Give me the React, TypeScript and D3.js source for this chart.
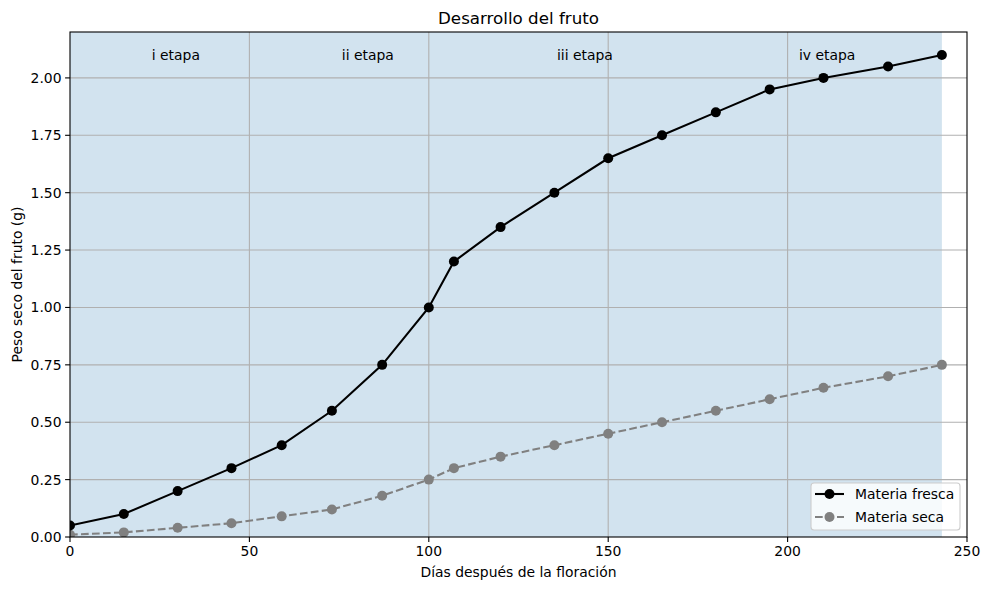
import React from "react";
import * as d3 from "d3";

const days = [0, 15, 30, 45, 59, 73, 87, 100, 107, 120, 135, 150, 165, 180, 195, 210, 228, 243];
const fresca = [0.05, 0.1, 0.2, 0.3, 0.4, 0.55, 0.75, 1.0, 1.2, 1.35, 1.5, 1.65, 1.75, 1.85, 1.95, 2.0, 2.05, 2.1];
const seca = [0.01, 0.02, 0.04, 0.06, 0.09, 0.12, 0.18, 0.25, 0.3, 0.35, 0.4, 0.45, 0.5, 0.55, 0.6, 0.65, 0.7, 0.75];
const stageLabels = ["i etapa", "ii etapa", "iii etapa", "iv etapa"];
const stageX = [29.5, 83, 143.5, 211];
const stageY = 2.1;
const xTicks = [0, 50, 100, 150, 200, 250];
const yTicks = [0, 0.25, 0.5, 0.75, 1.0, 1.25, 1.5, 1.75, 2.0];
const shadeEnd = 243;

const W = 990, H = 590;
const m = { left: 70, right: 967, top: 32, bottom: 537 };
const font = "DejaVu Sans, sans-serif";
const R = 5;

export default function App() {
  const x = d3.scaleLinear().domain([0, 250]).range([m.left, m.right]);
  const y = d3.scaleLinear().domain([0, 2.2]).range([m.bottom, m.top]);
  const line = d3.line<number>().x((_, i) => x(days[i])).y((d) => y(d));
  const tickFmt = d3.format(".2f");
  return (
    <svg width={W} height={H} style={{ position: "absolute", left: 0, top: 0, background: "#fff" }} fontFamily={font}>
      <defs>
        <clipPath id="clip">
          <rect x={m.left} y={m.top} width={m.right - m.left} height={m.bottom - m.top} />
        </clipPath>
      </defs>
      <rect x={x(0)} y={m.top} width={x(shadeEnd) - x(0)} height={m.bottom - m.top} fill="rgb(210,227,239)" />
      {xTicks.slice(1, -1).map((t) => (
        <line key={"gx" + t} x1={x(t)} x2={x(t)} y1={m.top} y2={m.bottom} stroke="#b0b0b0" strokeWidth={1.1} />
      ))}
      {yTicks.slice(1).map((t) => (
        <line key={"gy" + t} x1={m.left} x2={m.right} y1={y(t)} y2={y(t)} stroke="#b0b0b0" strokeWidth={1.1} />
      ))}
      {stageLabels.map((s, i) => (
        <text key={s} x={x(stageX[i])} y={y(stageY)} fontSize={13.9} textAnchor="middle" dominantBaseline="central" fill="#000">
          {s}
        </text>
      ))}
      <g clipPath="url(#clip)">
        <path d={line(seca) || ""} fill="none" stroke="#808080" strokeWidth={2.08} strokeDasharray="7.7,3.3" />
        {seca.map((v, i) => (
          <circle key={"s" + i} cx={x(days[i])} cy={y(v)} r={R} fill="#808080" />
        ))}
        <path d={line(fresca) || ""} fill="none" stroke="#000" strokeWidth={2.08} />
        {fresca.map((v, i) => (
          <circle key={"f" + i} cx={x(days[i])} cy={y(v)} r={R} fill="#000" />
        ))}
      </g>
      <rect x={m.left} y={m.top} width={m.right - m.left} height={m.bottom - m.top} fill="none" stroke="#000" strokeWidth={1.1} />
      {xTicks.map((t) => (
        <g key={"tx" + t}>
          <line x1={x(t)} x2={x(t)} y1={m.bottom} y2={m.bottom + 4.9} stroke="#000" strokeWidth={1.1} />
          <text x={x(t)} y={m.bottom + 9} fontSize={13.9} textAnchor="middle" dominantBaseline="hanging">{t}</text>
        </g>
      ))}
      {yTicks.map((t) => (
        <g key={"ty" + t}>
          <line x1={m.left - 4.9} x2={m.left} y1={y(t)} y2={y(t)} stroke="#000" strokeWidth={1.1} />
          <text x={m.left - 8.5} y={y(t)} fontSize={13.9} textAnchor="end" dominantBaseline="central">{tickFmt(t)}</text>
        </g>
      ))}
      <text x={(m.left + m.right) / 2} y={18} fontSize={16.7} textAnchor="middle" dominantBaseline="central">Desarrollo del fruto</text>
      <text x={(m.left + m.right) / 2} y={572} fontSize={13.9} textAnchor="middle" dominantBaseline="central">Días después de la floración</text>
      <text transform={`translate(17,${(m.top + m.bottom) / 2}) rotate(-90)`} fontSize={13.9} textAnchor="middle" dominantBaseline="central">Peso seco del fruto (g)</text>
      <g>
        <rect x={811} y={483} width={149} height={47} rx={3} fill="rgba(255,255,255,0.8)" stroke="#cccccc" strokeWidth={1.1} />
        <line x1={815} x2={844} y1={494} y2={494} stroke="#000" strokeWidth={2.08} />
        <circle cx={829.5} cy={494} r={R} fill="#000" />
        <text x={855} y={494} fontSize={13.9} dominantBaseline="central">Materia fresca</text>
        <line x1={815} x2={844} y1={517} y2={517} stroke="#808080" strokeWidth={2.08} strokeDasharray="7.7,3.3" />
        <circle cx={829.5} cy={517} r={R} fill="#808080" />
        <text x={855} y={517} fontSize={13.9} dominantBaseline="central">Materia seca</text>
      </g>
    </svg>
  );
}
